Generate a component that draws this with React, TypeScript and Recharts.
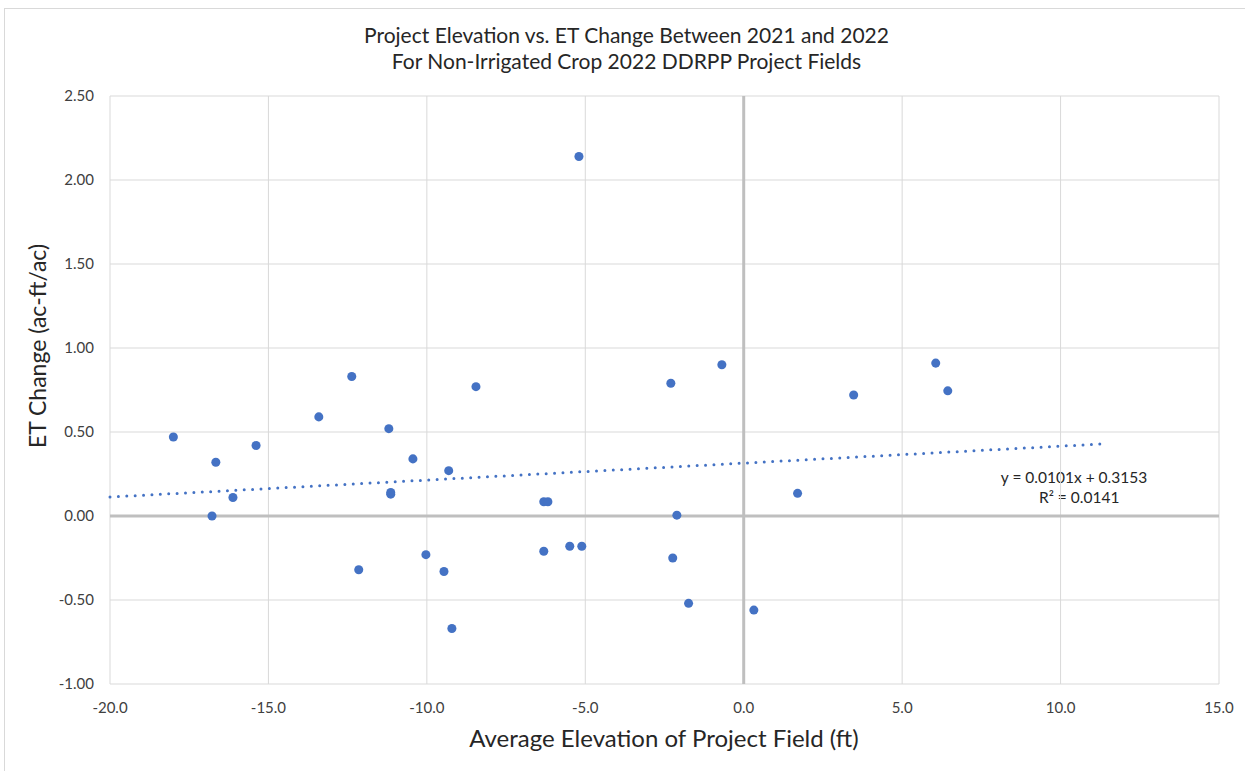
import { ScatterChart, Scatter, XAxis, YAxis, ZAxis, CartesianGrid, ReferenceLine } from 'recharts';

// elevation (ft) and ET change (ac-ft/ac) per project field
const elevation = [
  -18.0, -16.66, -16.78, -16.12, -15.39, -13.41, -12.37, -12.15, -11.2, -11.14, -11.14,
  -10.44, -10.03, -9.46, -9.31, -9.21, -8.45, -6.31, -6.18, -6.31, -5.49, -5.11, -5.2,
  -2.3, -2.24, -2.11, -1.74, -0.69, 0.32, 1.7, 3.47, 6.06, 6.44,
];
const etChange = [
  0.47, 0.32, 0.0, 0.11, 0.42, 0.59, 0.83, -0.32, 0.52, 0.13, 0.14,
  0.34, -0.23, -0.33, 0.27, -0.67, 0.77, 0.085, 0.085, -0.21, -0.18, -0.18, 2.14,
  0.79, -0.25, 0.005, -0.52, 0.9, -0.56, 0.135, 0.72, 0.91, 0.745,
];

const xTicks = [-20, -15, -10, -5, 0, 5, 10, 15];
const yTicks = [-1, -0.5, 0, 0.5, 1, 1.5, 2, 2.5];

// linear trendline end points (y = 0.0101x + 0.3153)
const trendX = [-20, 11.3];
const trendY = [0.113, 0.429];

const points = elevation.map((x, i) => ({ x, y: etChange[i] }));

const font = 'Lato, "Open Sans", sans-serif';

export default function App() {
  return (
    <div style={{ position: 'absolute', left: 0, top: 0, width: 1245, height: 771, overflow: 'hidden', background: '#fff', fontFamily: font }}>
      <div style={{ position: 'absolute', left: 4, top: 8, width: 1300, height: 800, border: '1px solid #d9d9d9' }} />
      <div style={{ position: 'absolute', left: 0, top: 22, width: 1253, textAlign: 'center', fontSize: 21, lineHeight: '26px', color: '#262626' }}>
        Project Elevation vs. ET Change Between 2021 and 2022
        <br />
        For Non-Irrigated Crop 2022 DDRPP Project Fields
      </div>
      <div style={{ position: 'absolute', left: 37, top: 346, transform: 'translate(-50%, -50%) rotate(-90deg)', whiteSpace: 'nowrap', fontSize: 23, color: '#262626' }}>
        ET Change (ac-ft/ac)
      </div>
      <div style={{ position: 'absolute', left: 0, width: 1328, top: 723, textAlign: 'center', fontSize: 24, color: '#262626' }}>
        Average Elevation of Project Field (ft)
      </div>
      <div style={{ position: 'absolute', left: 1039, top: 467, width: 70, textAlign: 'center', whiteSpace: 'nowrap', fontSize: 15.5, lineHeight: '20px', color: '#262626' }}>
        <div style={{ marginLeft: -50, marginRight: -50 }}>y = 0.0101x + 0.3153</div>
        <div>R² = 0.0141</div>
      </div>
      <div style={{ position: 'absolute', left: 0, top: 0 }}>
        <ScatterChart width={1245} height={771} margin={{ top: 96, right: 26, bottom: 0, left: 40 }}>
          <CartesianGrid stroke="#d9d9d9" strokeWidth={1} />
          <XAxis
            type="number"
            dataKey="x"
            domain={[-20, 15]}
            ticks={xTicks}
            axisLine={false}
            tickLine={false}
            tickMargin={12}
            height={87}
            tick={{ fontSize: 15, fill: '#404040', fontFamily: font }}
            tickFormatter={(v: number) => v.toFixed(1)}
            interval={0}
          />
          <YAxis
            type="number"
            dataKey="y"
            domain={[-1, 2.5]}
            ticks={yTicks}
            axisLine={false}
            tickLine={false}
            tickMargin={10}
            width={70}
            tick={{ fontSize: 15, fill: '#404040', fontFamily: font }}
            tickFormatter={(v: number) => v.toFixed(2)}
            interval={0}
          />
          <ZAxis range={[70, 70]} />
          <ReferenceLine x={0} stroke="#bfbfbf" strokeWidth={3} />
          <ReferenceLine y={0} stroke="#bfbfbf" strokeWidth={3} />
          <ReferenceLine
            segment={[{ x: trendX[0], y: trendY[0] }, { x: trendX[1], y: trendY[1] }]}
            stroke="#4472c4"
            strokeWidth={3}
            strokeDasharray="0 8.4"
            strokeLinecap="round"
          />
          <Scatter data={points} fill="#4472c4" isAnimationActive={false} />
        </ScatterChart>
      </div>
    </div>
  );
}
